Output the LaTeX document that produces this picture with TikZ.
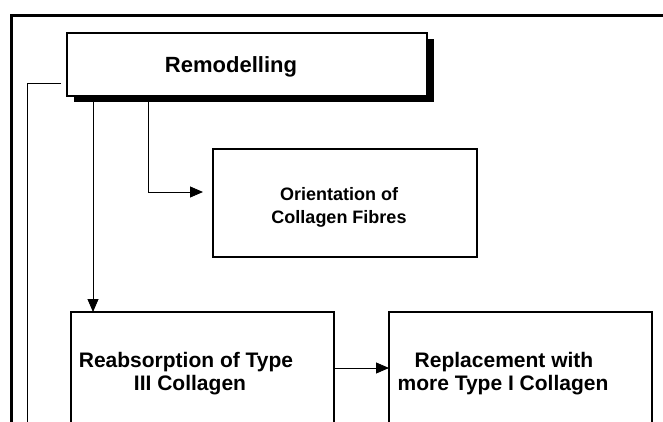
\documentclass[tikz,border=0pt]{standalone}
\usepackage{fontspec}
\setmainfont{Liberation Sans}
\usetikzlibrary{arrows.meta,shadows}
\begin{document}
\begin{tikzpicture}[x=1pt,y=-1pt,
  box/.style={draw=black,line width=1.1pt,fill=white,inner sep=0pt,outer sep=0pt},
  conn/.style={draw=black,line width=0.9pt},
  arr/.style={conn,-{Triangle[length=13pt,width=11pt]}},
  big/.style={font=\fontsize{22}{26}\selectfont\bfseries,inner sep=0pt,anchor=base},
  mid/.style={font=\fontsize{21}{25}\selectfont\bfseries,inner sep=0pt,anchor=base},
  small/.style={font=\fontsize{18}{22}\selectfont\bfseries,inner sep=0pt,anchor=base}]
\useasboundingbox (0,0) rectangle (663,422);
\fill[white] (0,0) rectangle (663,422);
% outer frame
\draw[line width=3pt] (11.5,440) -- (11.5,16) -- (680,16);
% boxes
\fill[black] (73.5,39.5) rectangle (433.5,102.5);
\node[box,minimum width=360pt,minimum height=63pt] (remod) at (247,64.5) {};
\node[box,minimum width=264pt,minimum height=108pt] (orient) at (345,203) {};
\node[box,minimum width=263pt,minimum height=112pt] (reab) at (202.5,368) {};
\node[box,minimum width=263pt,minimum height=112pt] (repl) at (520.5,368) {};
% texts
\node[big] (tremod) at (231,73) {Remodelling};
\node[small] (tor1) at (339,200) {Orientation of};
\node[small] (tor2) at (339,223) {Collagen Fibres};
\node[mid] (tre1) at (186,367) {Reabsorption of Type};
\node[mid] (tre2) at (190,390) {III Collagen};
\node[mid] (trp1) at (504,367) {Replacement with};
\node[mid] (trp2) at (503,390) {more Type I Collagen};
% connectors
\coordinate (lend) at (27,440);
\draw[conn] ([xshift=-6pt,yshift=-18.5pt]remod.west) -| (lend);
\draw[arr] ([xshift=26pt,yshift=-6.5pt]remod.south west) coordinate (a1) -- (a1 |- reab.north);
\draw[arr] ([xshift=81pt,yshift=-6.5pt]remod.south west) |- ([xshift=-10pt,yshift=11pt]orient.west);
\draw[arr] (reab.east) -- (repl.west);
\end{tikzpicture}
\end{document}
